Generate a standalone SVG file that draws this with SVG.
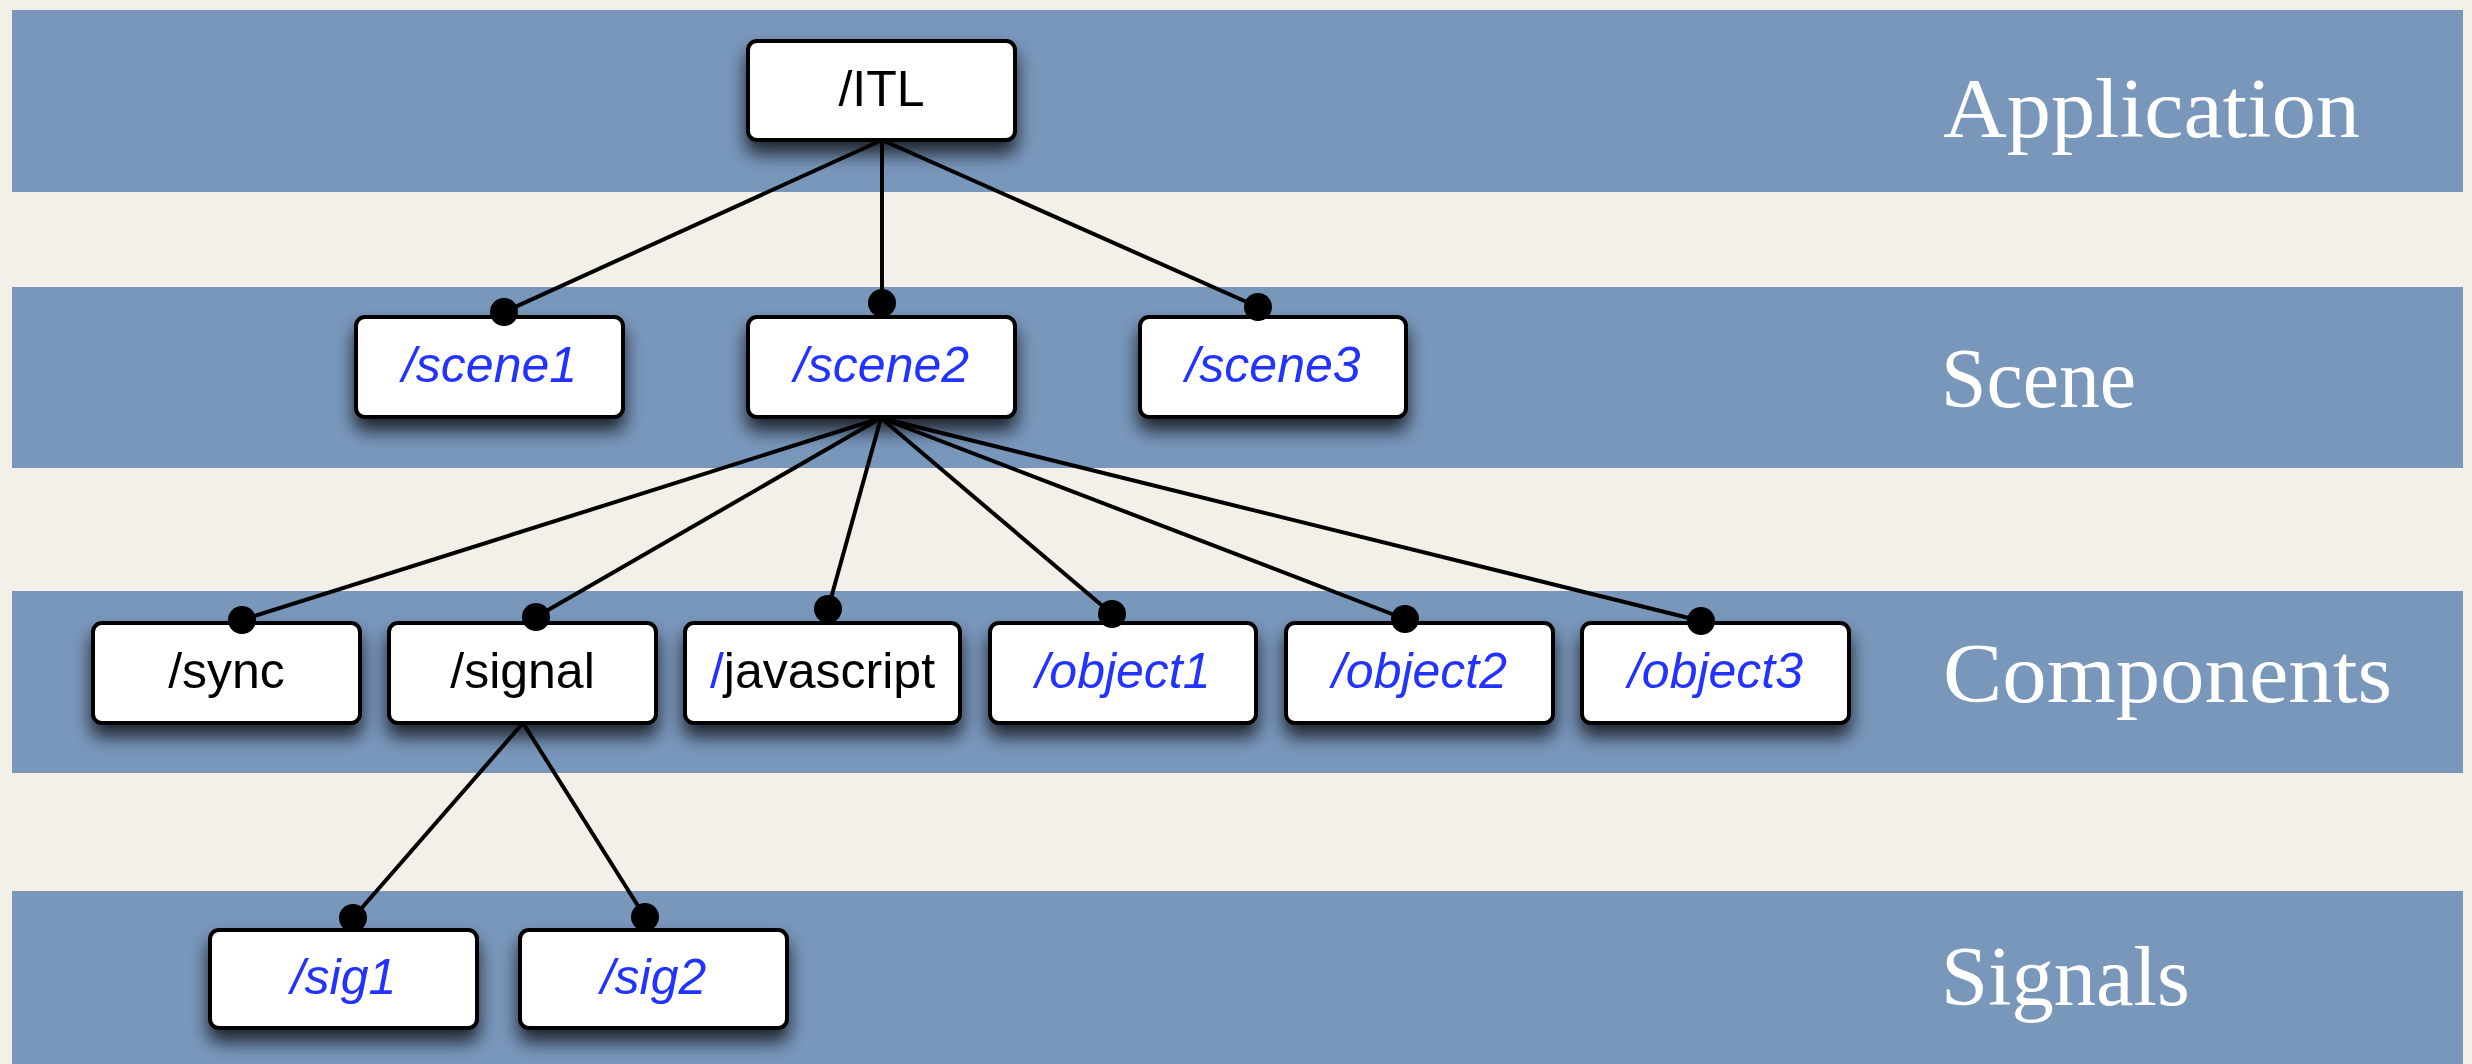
<svg xmlns="http://www.w3.org/2000/svg" width="2472" height="1064" viewBox="0 0 2472 1064">
<defs>
<filter id="sh" x="-20%" y="-20%" width="140%" height="160%">
<feGaussianBlur in="SourceAlpha" stdDeviation="9"/>
<feOffset dx="0" dy="12" result="b"/>
<feComponentTransfer><feFuncA type="linear" slope="0.75"/></feComponentTransfer>
<feMerge><feMergeNode/><feMergeNode in="SourceGraphic"/></feMerge>
</filter>
</defs>
<style>
.band{fill:#7996bb}
.box{fill:#ffffff;stroke:#000;stroke-width:4}
.t{font-family:"Liberation Sans",Arial,sans-serif;font-size:50px;text-anchor:middle;fill:#000}
.b{fill:#2233ff;font-style:italic}
.lab{font-family:"Liberation Serif","Times New Roman",serif;font-size:84px;fill:#fff}
.c{stroke:#000;stroke-width:4;fill:none}
.dot{fill:#000}
</style>
<rect width="2472" height="1064" fill="#f3f0ea"/>
<g id="bands">
<rect class="band" x="12" y="10" width="2451" height="182"/>
<rect class="band" x="12" y="287" width="2451" height="181"/>
<rect class="band" x="12" y="591" width="2451" height="182"/>
<rect class="band" x="12" y="891" width="2451" height="173"/>
<text class="lab" x="1943" y="137" textLength="417" lengthAdjust="spacingAndGlyphs">Application</text>
<text class="lab" x="1941" y="407" textLength="195" lengthAdjust="spacingAndGlyphs">Scene</text>
<text class="lab" x="1943" y="702" textLength="449" lengthAdjust="spacingAndGlyphs">Components</text>
<text class="lab" x="1941" y="1005" textLength="249" lengthAdjust="spacingAndGlyphs">Signals</text>
</g>
<g id="connectors">
<line class="c" x1="882" y1="140" x2="504" y2="312"/>
<line class="c" x1="882" y1="140" x2="882" y2="303"/>
<line class="c" x1="882" y1="140" x2="1258" y2="307"/>
<line class="c" x1="881" y1="418" x2="242" y2="620"/>
<line class="c" x1="881" y1="418" x2="536" y2="617"/>
<line class="c" x1="881" y1="418" x2="828" y2="609"/>
<line class="c" x1="881" y1="418" x2="1112" y2="614"/>
<line class="c" x1="881" y1="418" x2="1405" y2="619"/>
<line class="c" x1="881" y1="418" x2="1701" y2="621"/>
<line class="c" x1="523" y1="723" x2="353" y2="918"/>
<line class="c" x1="523" y1="723" x2="645" y2="917"/>
</g>
<g id="n-itl" filter="url(#sh)"><rect class="box" x="748" y="41" width="267" height="99" rx="9"/><text class="t" x="881.5" y="106">/ITL</text></g>
<g id="n-scene1" filter="url(#sh)"><rect class="box" x="356" y="317" width="267" height="100" rx="9"/><text class="t b" x="489.5" y="382">/scene1</text></g>
<g id="n-scene2" filter="url(#sh)"><rect class="box" x="748" y="317" width="267" height="100" rx="9"/><text class="t b" x="881.5" y="382">/scene2</text></g>
<g id="n-scene3" filter="url(#sh)"><rect class="box" x="1140" y="317" width="266" height="100" rx="9"/><text class="t b" x="1273" y="382">/scene3</text></g>
<g id="n-sync" filter="url(#sh)"><rect class="box" x="93" y="623" width="267" height="100" rx="9"/><text class="t" x="226.5" y="688">/sync</text></g>
<g id="n-signal" filter="url(#sh)"><rect class="box" x="389" y="623" width="267" height="100" rx="9"/><text class="t" x="522.5" y="688">/signal</text></g>
<g id="n-javascript" filter="url(#sh)"><rect class="box" x="685" y="623" width="275" height="100" rx="9"/><text class="t" x="822.5" y="688"><tspan fill="#2233ff">/</tspan>javascript</text></g>
<g id="n-object1" filter="url(#sh)"><rect class="box" x="990" y="623" width="266" height="100" rx="9"/><text class="t b" x="1123" y="688">/object1</text></g>
<g id="n-object2" filter="url(#sh)"><rect class="box" x="1286" y="623" width="267" height="100" rx="9"/><text class="t b" x="1419.5" y="688">/object2</text></g>
<g id="n-object3" filter="url(#sh)"><rect class="box" x="1582" y="623" width="267" height="100" rx="9"/><text class="t b" x="1715.5" y="688">/object3</text></g>
<g id="n-sig1" filter="url(#sh)"><rect class="box" x="210" y="930" width="267" height="98" rx="9"/><text class="t b" x="343.5" y="994">/sig1</text></g>
<g id="n-sig2" filter="url(#sh)"><rect class="box" x="520" y="930" width="267" height="98" rx="9"/><text class="t b" x="653.5" y="994">/sig2</text></g>
<g id="dots">
<circle class="dot" cx="504" cy="312" r="14"/>
<circle class="dot" cx="882" cy="303" r="14"/>
<circle class="dot" cx="1258" cy="307" r="14"/>
<circle class="dot" cx="242" cy="620" r="14"/>
<circle class="dot" cx="536" cy="617" r="14"/>
<circle class="dot" cx="828" cy="609" r="14"/>
<circle class="dot" cx="1112" cy="614" r="14"/>
<circle class="dot" cx="1405" cy="619" r="14"/>
<circle class="dot" cx="1701" cy="621" r="14"/>
<circle class="dot" cx="353" cy="918" r="14"/>
<circle class="dot" cx="645" cy="917" r="14"/>
</g>
</svg>
